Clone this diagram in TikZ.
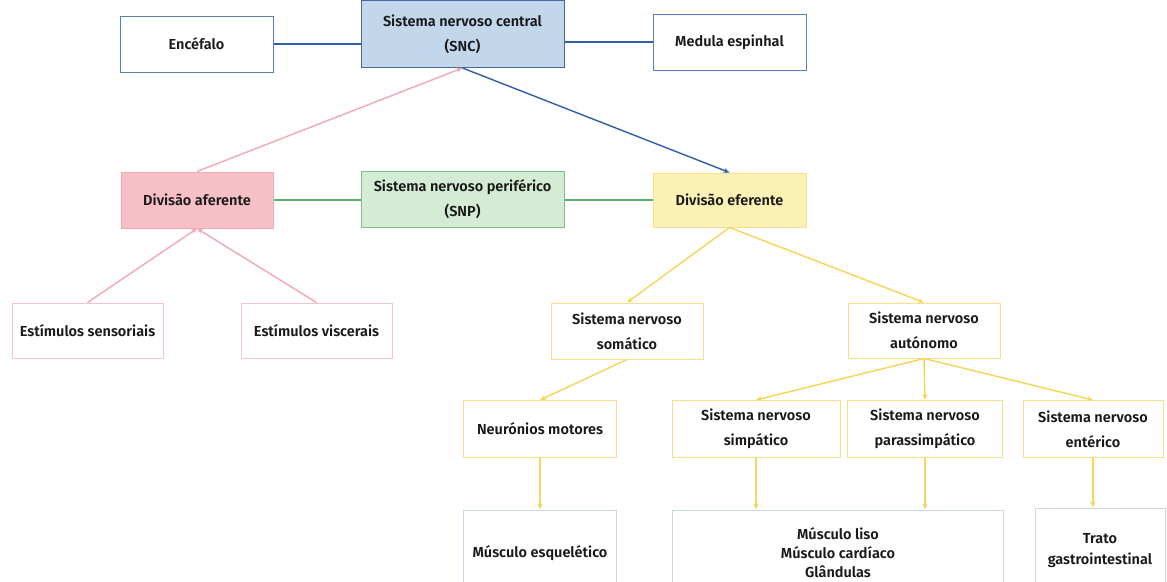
\documentclass[tikz,border=0pt]{standalone}
\usepackage{fontspec}
\setmainfont{Fira Sans}[UprightFont=* SemiBold]
\usetikzlibrary{arrows.meta}
\definecolor{snsblue}{HTML}{2E5FA8}
\definecolor{sncfill}{HTML}{C2D7EC}
\definecolor{snpgreen}{HTML}{5DAE6E}
\definecolor{snpfill}{HTML}{D4ECD4}
\definecolor{affpink}{HTML}{F2A9B3}
\definecolor{afffill}{HTML}{F7C0C7}
\definecolor{effyellow}{HTML}{F6D45A}
\definecolor{effbox}{HTML}{F6E08E}
\definecolor{efffill}{HTML}{FCF1B4}
\begin{document}
\begin{tikzpicture}[x=1pt, y=-1pt,
    mybox/.style={draw, line width=1pt, align=center, inner sep=2pt,
      font=\fontsize{14.5}{25}\selectfont, text=black!90},
    mylink/.style={line width=1.8pt},
    myarrow/.style={line width=1.4pt, -{Stealth[length=6pt, width=5pt]}}]
    \clip (0,0) rectangle (1167,581);
    \fill[white] (0,0) rectangle (1167,581);
    % central
    \node[mybox, draw=snsblue!80, minimum width=153, minimum height=56] (enc) at (196.5,44) {Encéfalo};
    \node[mybox, draw=snsblue!70!gray, fill=sncfill, minimum width=203, minimum height=67] (snc) at (462.5,34) {Sistema nervoso central\\(SNC)};
    \node[mybox, draw=snsblue!80, minimum width=153, minimum height=56] (med) at (729.5,42) {Medula espinhal};
    % periferico
    \node[mybox, draw=affpink, fill=afffill, minimum width=152, minimum height=56] (aff) at (197,200) {Divisão aferente};
    \node[mybox, draw=snpgreen!80, fill=snpfill, minimum width=203, minimum height=56] (snp) at (462.5,199) {Sistema nervoso periférico\\(SNP)};
    \node[mybox, draw=effbox, fill=efffill, minimum width=153, minimum height=54] (eff) at (729.5,200) {Divisão eferente};
    \node[mybox, draw=affpink!70, minimum width=151, minimum height=55] (sens) at (87.5,330.5) {Estímulos sensoriais};
    \node[mybox, draw=affpink!70, minimum width=151, minimum height=55] (visc) at (316.5,330.5) {Estímulos viscerais};
    \node[mybox, draw=effbox, minimum width=152, minimum height=56] (som) at (627,331) {Sistema nervoso\\somático};
    \node[mybox, draw=effbox, minimum width=152, minimum height=55] (aut) at (924,330.5) {Sistema nervoso\\autónomo};
    \node[mybox, draw=effbox, minimum width=153, minimum height=57] (neu) at (540,429) {Neurónios motores};
    \node[mybox, draw=effbox, minimum width=168, minimum height=57] (sim) at (756,429) {Sistema nervoso\\simpático};
    \node[mybox, draw=effbox, minimum width=155, minimum height=57] (par) at (925,429) {Sistema nervoso\\parassimpático};
    \node[mybox, draw=effbox, minimum width=140, minimum height=57] (ent) at (1093,429) {Sistema nervoso\\entérico};
    % alvos
    \node[mybox, draw=snsblue!25, minimum width=153, minimum height=86] (esq) at (540,553) {Músculo esquelético};
    \node[mybox, draw=snsblue!25, minimum width=331, minimum height=86, font=\fontsize{14.5}{19}\selectfont] (mus) at (838,553) {Músculo liso\\Músculo cardíaco\\Glândulas};
    \node[mybox, draw=snsblue!25, minimum width=130, minimum height=86, font=\fontsize{14.5}{21}\selectfont] (tra) at (1100,551) {Trato\\gastrointestinal};
    % ligacoes
    \draw[mylink, snsblue] (enc.east) -- (enc.east -| snc.west);
    \draw[mylink, snsblue] (med.west -| snc.east) -- (med.west);
    \draw[mylink, snpgreen] (aff.east) -- (aff.east -| snp.west);
    \draw[mylink, snpgreen] (eff.west -| snp.east) -- (eff.west);
    \draw[myarrow, affpink] (aff.north) -- (snc.south);
    \draw[myarrow, snsblue] (snc.south) -- (eff.north);
    \foreach \s in {sens,visc}
      \draw[myarrow, affpink] (\s.north) -- (aff.south);
    \foreach \s/\t in {eff/som,eff/aut,som/neu,aut/sim,aut/par,aut/ent,neu/esq}
      \draw[myarrow, effyellow] (\s.south) -- (\t.north);
    \foreach \s/\t in {sim/mus,par/mus,ent/tra}
      \draw[myarrow, effyellow] (\s.south) -- (\s.south |- \t.north);
\end{tikzpicture}
\end{document}
